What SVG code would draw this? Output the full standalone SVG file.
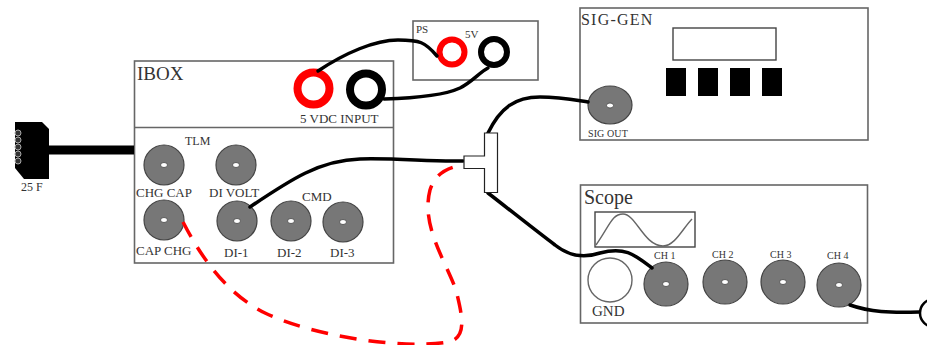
<svg xmlns="http://www.w3.org/2000/svg" width="927" height="345" viewBox="0 0 927 345">
<style>
text{font-family:"Liberation Serif","Times New Roman",serif;fill:#333}
.box{fill:#fff;stroke:#666;stroke-width:1.6}
.bnc{fill:#777;stroke:#444;stroke-width:1.2}
.pin{fill:#fff;stroke:#444;stroke-width:.8}
.w{fill:none;stroke:#000;stroke-width:3.5;stroke-linecap:round}
.s{font-size:13px}
.xs{font-size:10px}
.btn{fill:#000}
</style>
<rect width="927" height="345" fill="#fff"/>
<g id="sig-gen"><rect class="box" x="580" y="8" width="288" height="132"/><text x="581" y="25" font-size="16" letter-spacing="1.200">SIG-GEN</text><rect x="673" y="28" width="103" height="32" fill="#fff" stroke="#444" stroke-width="1.4"/><rect class="btn" x="666" y="68" width="20" height="28"/><rect class="btn" x="698" y="68" width="20" height="28"/><rect class="btn" x="730" y="68" width="20" height="28"/><rect class="btn" x="762" y="68" width="20" height="28"/><ellipse class="bnc" cx="610" cy="105" rx="22" ry="19"/><ellipse class="pin" cx="610" cy="105.500" rx="3.500" ry="2.500"/><text x="588" y="137" class="xs" letter-spacing=".1">SIG OUT</text></g>
<g id="ps"><rect class="box" x="413" y="21" width="125" height="59"/><text x="416" y="33" font-size="11">PS</text><text x="465" y="38" font-size="11">5V</text><circle cx="452" cy="52" r="12.500" fill="#fff" stroke="#f00" stroke-width="6"/><circle cx="494" cy="52" r="13" fill="#fff" stroke="#000" stroke-width="6"/></g>
<g id="ibox"><rect class="box" x="134.500" y="61" width="259" height="202"/><line x1="134.500" y1="127.500" x2="393.500" y2="127.500" stroke="#666" stroke-width="1.600"/><text x="137" y="80" font-size="19">IBOX</text><circle cx="313.500" cy="88.500" r="16" fill="#fff" stroke="#f00" stroke-width="8"/><circle cx="366" cy="89.500" r="16" fill="#fff" stroke="#000" stroke-width="8"/><text x="300" y="123" class="s">5 VDC INPUT</text><text x="185" y="145" font-size="12">TLM</text><text x="136" y="197" class="s">CHG CAP</text><text x="209" y="197" class="s">DI VOLT</text><text x="302" y="201" class="s">CMD</text><text x="136" y="255" class="s">CAP CHG</text><text x="224" y="257" class="s">DI-1</text><text x="277" y="257" class="s">DI-2</text><text x="330" y="257" class="s">DI-3</text>
<g id="ibox-ports"><circle class="bnc" cx="164" cy="165" r="20"/><ellipse class="pin" cx="164" cy="165" rx="3.500" ry="2.500"/><circle class="bnc" cx="236" cy="165" r="20"/><ellipse class="pin" cx="236" cy="165" rx="3.500" ry="2.500"/><circle class="bnc" cx="164" cy="220" r="20"/><ellipse class="pin" cx="164" cy="220" rx="3.500" ry="2.500"/><circle class="bnc" cx="237" cy="221" r="20"/><ellipse class="pin" cx="237" cy="221" rx="3.500" ry="2.500"/><circle class="bnc" cx="291" cy="221" r="20"/><ellipse class="pin" cx="291" cy="221" rx="3.500" ry="2.500"/><circle class="bnc" cx="343" cy="222" r="20"/><ellipse class="pin" cx="343" cy="222" rx="3.500" ry="2.500"/></g></g>
<g id="scope"><rect class="box" x="580.500" y="185" width="287" height="138"/><text x="584" y="204" font-size="20">Scope</text><rect x="595" y="212" width="100" height="35" fill="#fff" stroke="#444" stroke-width="1.400"/><path d="M596 245C610 225 612 214 623 214C636 214 644 246 663 246C675 246 683 228 692 219" fill="none" stroke="#666" stroke-width="1.400"/><circle cx="610" cy="280" r="22" fill="#fff" stroke="#666" stroke-width="1.400"/><text x="592" y="316" font-size="15">GND</text><text x="654" y="259" class="xs">CH 1</text><text x="712" y="258" class="xs">CH 2</text><text x="770" y="258" class="xs">CH 3</text><text x="827" y="259" class="xs">CH 4</text><circle class="bnc" cx="666" cy="284" r="22"/><ellipse class="pin" cx="666" cy="284" rx="3.500" ry="2.500"/><circle class="bnc" cx="725" cy="282" r="22"/><ellipse class="pin" cx="725" cy="282" rx="3.500" ry="2.500"/><circle class="bnc" cx="783" cy="282" r="22"/><ellipse class="pin" cx="783" cy="282" rx="3.500" ry="2.500"/><circle class="bnc" cx="839" cy="285" r="22"/><ellipse class="pin" cx="839" cy="285" rx="3.500" ry="2.500"/></g>
<g id="connector-25f"><path d="M15 122H42L49 129V179H24L15 168Z" fill="#000"/><g fill="#333" stroke="#aaa" stroke-width="1"><circle cx="18" cy="133" r="3"/><circle cx="18" cy="140" r="3"/><circle cx="18" cy="147" r="3"/><circle cx="18" cy="154" r="3"/><circle cx="18" cy="161" r="3"/></g><text x="21" y="191" font-size="12">25 F</text></g>
<g id="connectors">
<path d="M49 150H134" stroke="#000" stroke-width="9" fill="none"/>
<path class="w" d="M318 71C345 53 375 40 398 40C420 40 425 42 437 56"/>
<path class="w" d="M384 99C420 98 445 95 460 88C472 82 480 72 488 68"/>
<path class="w" d="M250 207C290 180 320 160 360 159C400 158 430 162 463 161"/>
<path class="w" d="M488 133C500 108 515 97 540 97C560 97 575 100 588 102"/>
<path class="w" d="M488 193C510 210 535 230 555 245C570 257 585 258 600 253C625 246 635 255 652 268"/>
<path class="w" d="M850 305C870 312 890 313 919 312"/>
<path d="M183 222C200 255 225 293 265 313C310 335 400 350 448 342C468 338 462 315 456 290C444 258 421 225 430 190C435 175 445 168 462 165" fill="none" stroke="#f00" stroke-width="3.500" stroke-dasharray="17 12"/>
</g>
<g id="t-adapter"><path d="M484.500 133H497.500V192.500H484.500V168.500H464V156H484.500Z" fill="#fff" stroke="#222" stroke-width="1.200"/></g>
<g id="load"><circle cx="934" cy="313" r="14" fill="#fff" stroke="#000" stroke-width="2.500"/></g>
</svg>
